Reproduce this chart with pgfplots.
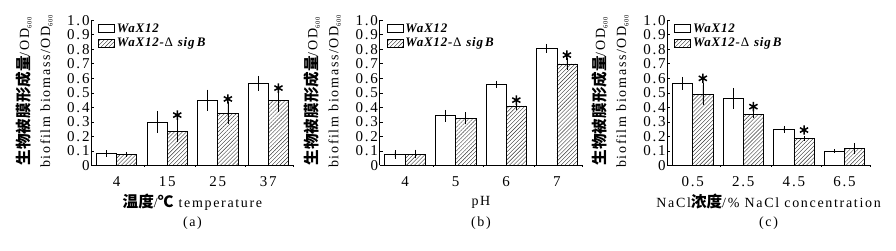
\documentclass[border=0pt]{standalone}
\usepackage{fontspec}
\setmainfont{Liberation Serif}[LetterSpace=12]
\newfontfamily\lgf{Liberation Serif}[LetterSpace=6]
\newfontfamily\cjk{Noto Sans CJK SC}
\usepackage{pgfplots}
\pgfplotsset{compat=1.18}
\usetikzlibrary{patterns.meta}
\newcommand\mf{\fontsize{14}{16}\selectfont}
\newcommand\tf{\fontsize{15}{16}\selectfont}
\newcommand\cj[1]{{\cjk\bfseries\fontsize{15.6}{16}\selectfont #1}}
\newcommand\sub[1]{\raisebox{-2.5pt}{\fontsize{6.5}{6.5}\selectfont #1}}
\pgfplotsset{
  panel/.style={
    scale only axis, width=202.4pt, height=145.3pt,
    anchor=south west,
    xmin=-0.5, xmax=3.5, ymin=0, ymax=1,
    axis x line*=bottom, axis y line*=left,
    axis line style={-, line width=0.8pt},
    clip=false, font=\mf,
    ytick={0,0.1,0.2,0.3,0.4,0.5,0.6,0.7,0.8,0.9,1.0},
    yticklabels={0,0.1,0.2,0.3,0.4,0.5,0.6,0.7,0.8,0.9,1.0},
    xtick={0,1,2,3},
    minor xtick={0.55,1.55,2.55,3.5},
    tick align=inside,
    major tick length=3pt, minor tick length=-2pt,
    major x tick style={draw=none},
    tick style={line width=0.6pt, black},
    tick label style={font=\tf},
    yticklabel style={inner sep=1.5pt},
    xticklabel style={anchor=center, yshift=-16.5pt},
    xlabel style={at={(axis description cs:0.5,-0.251)}, anchor=center, inner sep=0pt},
    ylabel style={at={(axis description cs:-0.19,0.51)}, anchor=south, align=center, inner sep=0pt},
    ylabel={\cj{生物被膜形成量}/OD\sub{600}\\[5pt]biofilm biomass/OD\sub{600}},
    legend style={at={(axis description cs:0.035,0.99)}, anchor=north west, draw=none, fill=none,
      inner sep=0pt, outer sep=0pt, row sep=0pt, font=\lgf\fontsize{13}{15.5}\selectfont,
      /tikz/every even column/.append style={column sep=3pt}},
    legend cell align=left,
    legend image code/.code={\draw[##1] (0pt,-4pt) rectangle (16pt,4pt);},
  },
  wbar/.style={ybar, bar width=0.4, bar shift=0pt, fill=white, draw=black, line width=0.6pt,
    error bars/y dir=both, error bars/y explicit,
    error bars/error bar style={line width=0.5pt, black},
    error bars/error mark options={mark size=1.8pt, line width=0.5pt, black}},
  hbar/.style={ybar, bar width=0.4, bar shift=0pt, draw=black, line width=0.6pt,
    pattern={Lines[angle=45, distance=2.8pt, line width=0.4pt]}, pattern color=black!80,
    error bars/y dir=both, error bars/y explicit,
    error bars/error bar style={line width=0.5pt, black},
    error bars/error mark options={mark size=1.8pt, line width=0.5pt, black}},
  star/.style={only marks, mark=asterisk, mark size=4.7pt, line width=1.5pt, black, forget plot},
}
\begin{document}
\begin{tikzpicture}
\useasboundingbox (0,0) rectangle (896pt,251pt);
% ---------------- (a) temperature
\begin{axis}[panel, at={(91.25pt,85.5pt)},
  xticklabels={4,15,25,37},
  xlabel={\cj{温度}/\cj{℃} temperature},
  extra description/.code={\node[font=\mf] at (axis description cs:0.5,-0.396) {(a)};}]
\addplot[wbar] coordinates {(-0.2,0.084) +- (0,0.01) (0.8,0.300) +- (0,0.063) (1.8,0.450) +- (0,0.060) (2.8,0.566) +- (0,0.038)};
\addlegendentry{\textbf{\textit{WaX12}}}
\addplot[hbar] coordinates {(0.2,0.077) +- (0,0.004) (1.2,0.237) +- (0,0.063) (2.2,0.360) +- (0,0.063) (3.2,0.450) +- (0,0.070)};
\addlegendentry{\textbf{\textit{WaX12-}}Δ\ \textbf{\textit{sig\,B}}}
\addplot[star] coordinates {(1.2,0.347) (2.2,0.458) (3.2,0.533)};
\end{axis}
% ---------------- (b) pH
\begin{axis}[panel, at={(379.7pt,85.5pt)},
  xticklabels={4,5,6,7},
  xlabel={pH},
  extra description/.code={\node[font=\mf] at (axis description cs:0.5,-0.396) {(b)};}]
\addplot[wbar] coordinates {(-0.2,0.077) +- (0,0.017) (0.8,0.343) +- (0,0.028) (1.8,0.559) +- (0,0.012) (2.8,0.807) +- (0,0.017)};
\addlegendentry{\textbf{\textit{WaX12}}}
\addplot[hbar] coordinates {(0.2,0.079) +- (0,0.017) (1.2,0.325) +- (0,0.030) (2.2,0.410) +- (0,0.017) (3.2,0.699) +- (0,0.028)};
\addlegendentry{\textbf{\textit{WaX12-}}Δ\ \textbf{\textit{sig\,B}}}
\addplot[star] coordinates {(2.2,0.450) (3.2,0.760)};
\end{axis}
% ---------------- (c) NaCl
\begin{axis}[panel, at={(667.4pt,85.5pt)},
  xticklabels={0.5,2.5,4.5,6.5},
  xlabel={NaCl\cj{浓度}/\% NaCl concentration},
  extra description/.code={\node[font=\mf] at (axis description cs:0.5,-0.396) {(c)};}]
\addplot[wbar] coordinates {(-0.2,0.566) +- (0,0.032) (0.8,0.462) +- (0,0.060) (1.8,0.249) +- (0,0.011) (2.8,0.100) +- (0,0.0)};
\addlegendentry{\textbf{\textit{WaX12}}}
\addplot[hbar] coordinates {(0.2,0.490) +- (0,0.063) (1.2,0.354) +- (0,0.017) (2.2,0.187) +- (0,0.005) (3.2,0.118) +- (0,0.026)};
\addlegendentry{\textbf{\textit{WaX12-}}Δ\ \textbf{\textit{sig\,B}}}
\addplot[star] coordinates {(0.2,0.600) (1.2,0.405) (2.2,0.244)};
\end{axis}
\end{tikzpicture}
\end{document}
